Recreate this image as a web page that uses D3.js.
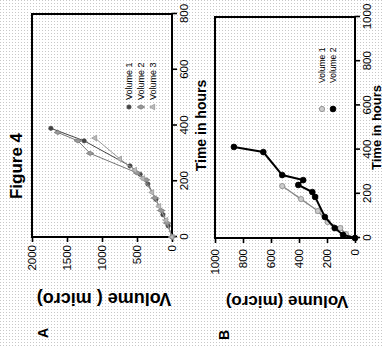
<!DOCTYPE html>
<html>
<head>
<meta charset="utf-8">
<script src="https://cdn.jsdelivr.net/npm/d3@7/dist/d3.min.js"></script>
<style>
  body { margin: 0; background: #fff; }
  svg { display: block; }
  text { font-family: "Liberation Sans", Arial, sans-serif; fill: #000; }
</style>
</head>
<body>
<div id="graph"></div>
<script>
let width = 383;
let height = 348;

// panel A : three volumes
let timeTicksA = [0, 200, 400, 600, 800];
let volTicksA = [0, 500, 1000, 1500, 2000];
let timesA1 = [0, 40, 80, 135, 190, 225, 255, 345, 390];
let volA1 = [0, 55, 130, 230, 345, 455, 600, 1255, 1730];
let timesA2 = [0, 50, 95, 140, 205, 230, 300, 345, 375];
let volA2 = [0, 70, 155, 245, 370, 500, 1170, 1345, 1630];
let timesA3 = [0, 60, 110, 160, 210, 240, 280, 355];
let volA3 = [0, 85, 185, 285, 415, 530, 745, 1100];
let legendA = ["Volume 1", "Volume 2", "Volume 3"];

// panel B : two volumes
let timeTicksB = [0, 200, 400, 600, 800, 1000];
let volTicksB = [0, 200, 400, 600, 800, 1000];
let timesB1 = [0, 18, 45, 72, 122, 176, 235];
let volB1 = [0, 65, 105, 195, 265, 385, 520];
let timesB2 = [0, 14, 45, 95, 186, 208, 240, 262, 285, 389, 412];
let volB2 = [0, 85, 145, 215, 285, 305, 405, 370, 520, 655, 865];
let legendB = ["Volume 1", "Volume 2"];

let svg = d3.select('#graph')
  .append('svg')
  .attr('width', width)
  .attr('height', height);

// scanned page texture
let pat = svg.append('defs').append('pattern')
  .attr('id', 'speck')
  .attr('width', 3).attr('height', 3)
  .attr('patternUnits', 'userSpaceOnUse');
pat.append('rect').attr('width', 1).attr('height', 1).attr('fill', '#c8c8c8');
svg.append('rect').attr('width', width).attr('height', height).attr('fill', 'url(#speck)');

// the page is turned a quarter to the left, draw it upright then rotate
let page = svg.append('g')
  .attr('transform', 'translate(0,' + height + ') rotate(-90)');

let zip = (t, v) => t.map((d, i) => ({ t: d, v: v[i] }));

let drawPanel = function(opt) {
  let x = d3.scaleLinear().domain(opt.xDomain).range(opt.xRange);
  let y = d3.scaleLinear().domain(opt.yDomain).range(opt.yRange);
  let g = page.append('g');

  let xAxis = g.append('g')
    .attr('transform', 'translate(0,' + opt.yRange[0] + ')')
    .call(d3.axisBottom(x).tickValues(opt.xTicks).tickFormat(d3.format('d')).tickSize(5).tickPadding(3));
  let yAxis = g.append('g')
    .attr('transform', 'translate(' + opt.xRange[0] + ',0)')
    .call(d3.axisLeft(y).tickValues(opt.yTicks).tickFormat(d3.format('d')).tickSize(5).tickPadding(opt.yPad));
  [xAxis, yAxis].forEach(a => {
    a.select('.domain').remove();
    a.attr('font-family', null);
    a.selectAll('.tick line').attr('stroke', '#000').attr('stroke-width', 1.6);
    a.selectAll('.tick text').attr('font-size', 11.5).attr('fill', '#000');
  });

  g.append('rect')
    .attr('x', opt.xRange[0]).attr('y', opt.yRange[1])
    .attr('width', opt.xRange[1] - opt.xRange[0])
    .attr('height', opt.yRange[0] - opt.yRange[1])
    .attr('fill', 'none').attr('stroke', '#000').attr('stroke-width', 2);

  let line = d3.line().x(d => x(d.t)).y(d => y(d.v));

  opt.series.forEach(s => {
    g.append('path')
      .datum(s.data)
      .attr('d', line)
      .attr('fill', 'none')
      .attr('stroke', s.color)
      .attr('stroke-width', s.width);
    g.selectAll(null)
      .data(s.data)
      .enter()
      .append('path')
      .attr('transform', d => 'translate(' + x(d.t) + ',' + y(d.v) + ')')
      .attr('d', d3.symbol().type(s.symbol).size(s.size))
      .attr('fill', s.fill)
      .attr('stroke', s.color)
      .attr('stroke-width', 0.8);
  });

  // legend
  opt.series.forEach((s, i) => {
    let ly = opt.legend.y[i];
    g.append('path')
      .attr('transform', 'translate(' + opt.legend.mark + ',' + ly + ')')
      .attr('d', d3.symbol().type(s.symbol).size(s.size))
      .attr('fill', s.fill)
      .attr('stroke', s.color)
      .attr('stroke-width', 0.8);
    g.append('text')
      .attr('x', opt.legend.text)
      .attr('y', ly)
      .attr('dy', '0.35em')
      .attr('font-size', opt.legend.size)
      .text(opt.legend.labels[i]);
  });

  g.append('text')
    .attr('x', (opt.xRange[0] + opt.xRange[1]) / 2)
    .attr('y', opt.xTitleY)
    .attr('text-anchor', 'middle')
    .attr('font-size', opt.xTitleSize)
    .attr('font-weight', 'bold')
    .text('Time in hours');

  g.append('text')
    .attr('transform', 'translate(' + opt.yTitleX + ',' + ((opt.yRange[0] + opt.yRange[1]) / 2 + 2) + ') rotate(-90)')
    .attr('text-anchor', 'middle')
    .attr('font-size', opt.yTitleSize)
    .attr('font-weight', 'bold')
    .text(opt.yTitle);

  g.append('text')
    .attr('x', opt.letter[0]).attr('y', opt.letter[1])
    .attr('text-anchor', 'middle')
    .attr('font-size', 14)
    .attr('font-weight', 'bold')
    .text(opt.letterText);
};

drawPanel({
  xDomain: [0, 800], xRange: [111, 334],
  yDomain: [0, 2000], yRange: [172, 32],
  xTicks: timeTicksA, yTicks: volTicksA, yPad: 3,
  xTitleY: 206, xTitleSize: 14,
  yTitleX: 55, yTitleSize: 18, yTitle: 'Volume ( micro)',
  letter: [15, 48], letterText: 'A',
  legend: { y: [129, 141, 153], mark: 241, text: 248, size: 9, labels: legendA },
  series: [
    { data: zip(timesA1, volA1), color: '#444', fill: '#444', width: 1, symbol: d3.symbolCircle, size: 14 },
    { data: zip(timesA2, volA2), color: '#777', fill: '#999', width: 1, symbol: d3.symbolDiamond, size: 16 },
    { data: zip(timesA3, volA3), color: '#999', fill: '#bbb', width: 1, symbol: d3.symbolTriangle, size: 14 }
  ]
});

drawPanel({
  xDomain: [0, 1000], xRange: [110, 331],
  yDomain: [0, 1000], yRange: [355, 215],
  xTicks: timeTicksB, yTicks: volTicksB, yPad: 6,
  xTitleY: 381, xTitleSize: 13,
  yTitleX: 52, yTitleSize: 17, yTitle: 'Volume (micro)',
  letter: [13, 229], letterText: 'B',
  legend: { y: [322, 333], mark: 239, text: 265, size: 8.5, labels: legendB },
  series: [
    { data: zip(timesB1, volB1), color: '#888', fill: '#ccc', width: 1.3, symbol: d3.symbolCircle, size: 22 },
    { data: zip(timesB2, volB2), color: '#000', fill: '#000', width: 2, symbol: d3.symbolCircle, size: 26 }
  ]
});

page.append('text')
  .attr('x', 182).attr('y', 22)
  .attr('text-anchor', 'middle')
  .attr('font-size', 17)
  .attr('font-weight', 'bold')
  .text('Figure 4');
</script>
</body>
</html>
